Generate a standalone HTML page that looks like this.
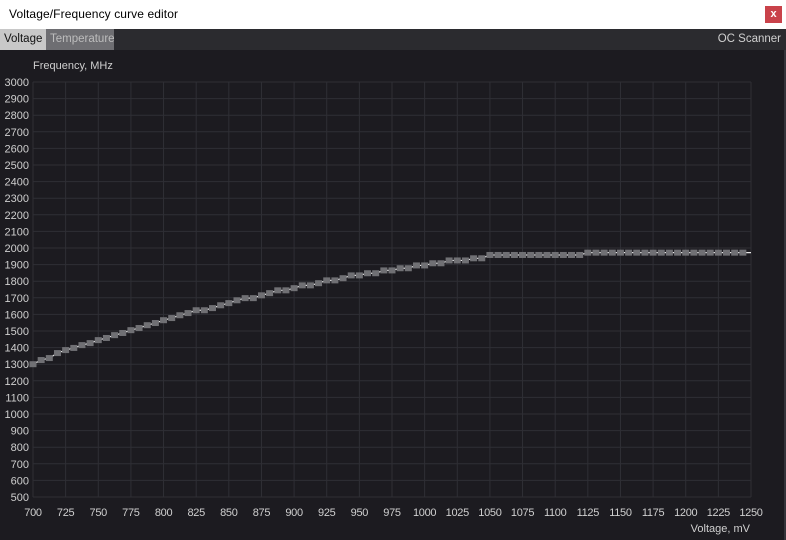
<!DOCTYPE html>
<html><head><meta charset="utf-8">
<style>
body{margin:0;width:786px;height:540px;overflow:hidden;background:#1c1b20;font-family:"Liberation Sans",sans-serif}
#title{position:absolute;left:0;top:0;width:786px;height:29px;background:#fff;}
#title span{position:absolute;left:9px;top:7px;font-size:12px;color:#000;letter-spacing:0.1px}
#close{position:absolute;left:765px;top:6px;width:17px;height:17px;background:#c9424a;color:#fff;font-size:11px;text-align:center;line-height:16px;font-weight:bold}
#tabs{position:absolute;left:0;top:29px;width:786px;height:21px;background:#2b2b2f}
.tab{position:absolute;top:0;height:21px;font-size:11.5px;line-height:21px;padding:0 4px;box-sizing:border-box}
#oc{position:absolute;right:5px;top:0;font-size:11.5px;line-height:21px;color:#d0d0d0}
#frame{position:absolute;left:0;top:50px;width:784px;height:490px;border-right:2px solid #34343a}
svg{position:absolute;left:0;top:0}
</style></head><body>
<div id="title"><span>Voltage/Frequency curve editor</span>
<div id="close">x</div></div>
<div id="tabs">
<div class="tab" style="left:0;width:46px;background:#c8c8c8;color:#111">Voltage</div>
<div class="tab" style="left:46px;width:68px;background:#6e6e72;color:#bdbdbd">Temperature</div>
<div id="oc">OC Scanner</div>
</div>
<div id="frame"></div>
<svg id="chart" width="786" height="540"></svg>
<script>
const voltages=[700,706.25,712.5,718.75,725,731.25,737.5,743.75,750,756.25,762.5,768.75,775,781.25,787.5,793.75,800,806.25,812.5,818.75,825,831.25,837.5,843.75,850,856.25,862.5,868.75,875,881.25,887.5,893.75,900,906.25,912.5,918.75,925,931.25,937.5,943.75,950,956.25,962.5,968.75,975,981.25,987.5,993.75,1000,1006.25,1012.5,1018.75,1025,1031.25,1037.5,1043.75,1050,1056.25,1062.5,1068.75,1075,1081.25,1087.5,1093.75,1100,1106.25,1112.5,1118.75,1125,1131.25,1137.5,1143.75,1150,1156.25,1162.5,1168.75,1175,1181.25,1187.5,1193.75,1200,1206.25,1212.5,1218.75,1225,1231.25,1237.5,1243.75];
const freqs=[1300,1325,1337,1367,1385,1398,1415,1427,1445,1458,1475,1488,1505,1518,1535,1548,1565,1578,1595,1608,1625,1625,1638,1655,1668,1685,1698,1698,1715,1728,1745,1745,1758,1775,1775,1788,1805,1805,1818,1835,1835,1848,1848,1865,1865,1878,1878,1895,1895,1908,1908,1925,1925,1925,1938,1938,1958,1958,1958,1958,1958,1958,1958,1958,1958,1958,1958,1958,1972,1972,1972,1972,1972,1972,1972,1972,1972,1972,1972,1972,1972,1972,1972,1972,1972,1972,1972,1972];
const xTicks=[700,725,750,775,800,825,850,875,900,925,950,975,1000,1025,1050,1075,1100,1125,1150,1175,1200,1225,1250];
const yTicks=[500,600,700,800,900,1000,1100,1200,1300,1400,1500,1600,1700,1800,1900,2000,2100,2200,2300,2400,2500,2600,2700,2800,2900,3000];
const NS='http://www.w3.org/2000/svg';
const svg=document.getElementById('chart');
const X=v=>33+(v-700)/550*718;
const Y=f=>497-(f-500)/2500*415;
function mk(t,a){const e=document.createElementNS(NS,t);for(const k in a)e.setAttribute(k,a[k]);svg.appendChild(e);return e;}
xTicks.forEach(v=>{
 const l=mk('line',{x1:X(v),x2:X(v),y1:Y(3000),y2:Y(500),stroke:'#2f2f35','stroke-width':1});
 
 
 const t=mk('text',{x:X(v),y:516,'text-anchor':'middle','font-size':11,fill:'#cfcfcf','font-family':'Liberation Sans','letter-spacing':'-0.3'});
 t.textContent=v;
 
 
});
yTicks.forEach(f=>{
 const l=mk('line',{x1:X(700),x2:X(1250),y1:Y(f),y2:Y(f),stroke:'#2f2f35','stroke-width':1});
 
 
 const t=mk('text',{x:29,y:Y(f)+4,'text-anchor':'end','font-size':11,fill:'#cfcfcf','font-family':'Liberation Sans'});
 t.textContent=f;
 
 
});
const yt=mk('text',{x:33,y:69,'font-size':11,fill:'#cfcfcf','font-family':'Liberation Sans'});
yt.textContent='Frequency, MHz';


const xt=mk('text',{x:750,y:532,'text-anchor':'end','font-size':11,fill:'#cfcfcf','font-family':'Liberation Sans'});
xt.textContent='Voltage, mV';


let d='';
voltages.forEach((v,i)=>{d+=(i?'L':'M')+X(v)+' '+Y(freqs[i]);});
d+='L'+X(1250)+' '+Y(freqs[freqs.length-1]);
const path=mk('path',{d:d,fill:'none',stroke:'#e8e8e8','stroke-width':1.2});


voltages.forEach((v,i)=>{
 const r=mk('rect',{x:X(v)-3.5,y:Y(freqs[i])-3,width:7,height:6,fill:'#707074'});
 
 
});
</script>
</body></html>
